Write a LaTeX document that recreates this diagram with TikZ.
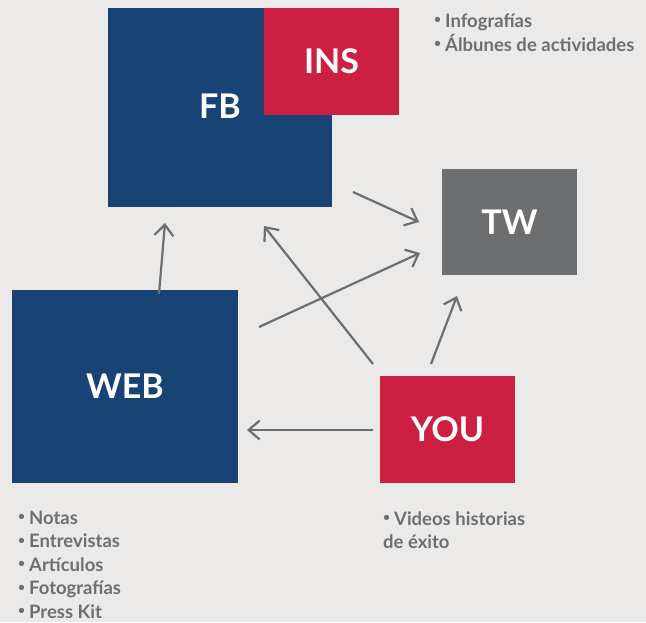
\documentclass[tikz,border=0pt]{standalone}
\usepackage{fontspec}
\setmainfont{Lato}
\usetikzlibrary{arrows.meta}
\definecolor{bg}{HTML}{ECEAE8}
\definecolor{fbblue}{HTML}{174475}
\definecolor{insred}{HTML}{CD1F41}
\definecolor{twgray}{HTML}{6D6E70}
\newcommand{\smbul}{\raisebox{3.5pt}{\fontsize{12}{12}\selectfont•}\kern4pt}
\begin{document}
\begin{tikzpicture}[x=1pt,y=-1pt,
  box/.style={draw=none,minimum width=#1,inner sep=0pt,text=white,font=\bfseries\fontsize{34}{34}\selectfont},
  conn/.style={draw=twgray,line width=2.2pt,-{Straight Barb[length=11pt,width=19pt,line width=2.2pt]}},
  bul/.style={text=twgray,font=\bfseries\fontsize{18.5}{23.5}\selectfont,inner sep=0pt,anchor=base west}]
\fill[bg] (0,0) rectangle (646,622);
\useasboundingbox (0,0) rectangle (646,622);
% boxes
\node[box=224pt,fill=fbblue,minimum height=199pt] (FB) at (220,107.5) {};
\node[box=135pt,fill=insred,minimum height=107pt] (INS) at (331.5,61.5) {INS};
\node[text=white,font=\bfseries\fontsize{34}{34}\selectfont] (FBl) at (220,106) {FB};
\node[box=135pt,fill=twgray,minimum height=106pt] (TW) at (509.5,222) {TW};
\node[box=226pt,fill=fbblue,minimum height=193pt] (WEB) at (125,386.5) {WEB};
\node[box=135pt,fill=insred,minimum height=107pt] (YOU) at (447.5,429.5) {YOU};
% connector ends
\coordinate (w1) at (159,294);
\coordinate (f1) at (165,223);
\coordinate (f2) at (353,192);
\coordinate (t1) at (419,222);
\coordinate (y1) at (373,364);
\coordinate (f3) at (264,226);
\coordinate (w2) at (259,327);
\coordinate (t2) at (420,253);
\coordinate (y2) at (431,364);
\coordinate (t3) at (457,296);
\coordinate (y3) at (373,430);
\coordinate (w3) at (247,430);
\draw[conn] (w1) -- (f1);
\draw[conn] (f2) -- (t1);
\draw[conn] (y1) -- (f3);
\draw[conn] (w2) -- (t2);
\draw[conn] (y2) -- (t3);
\draw[conn] (y3) -- (w3);
% text lists
\node[bul] (i1) at (434,27) {\smbul Infografías};
\node[bul] (i2) at (434,51) {\smbul Álbunes de actividades};
\node[bul] (n1) at (18,524) {\smbul Notas};
\node[bul] (n2) at (18,547.5) {\smbul Entrevistas};
\node[bul] (n3) at (18,571) {\smbul Artículos};
\node[bul] (n4) at (18,594.5) {\smbul Fotografías};
\node[bul] (n5) at (18,618) {\smbul Press Kit};
\node[bul] (v1) at (383,525) {\smbul Videos historias};
\node[bul] (v2) at (383,548) {de éxito};
\end{tikzpicture}
\end{document}
